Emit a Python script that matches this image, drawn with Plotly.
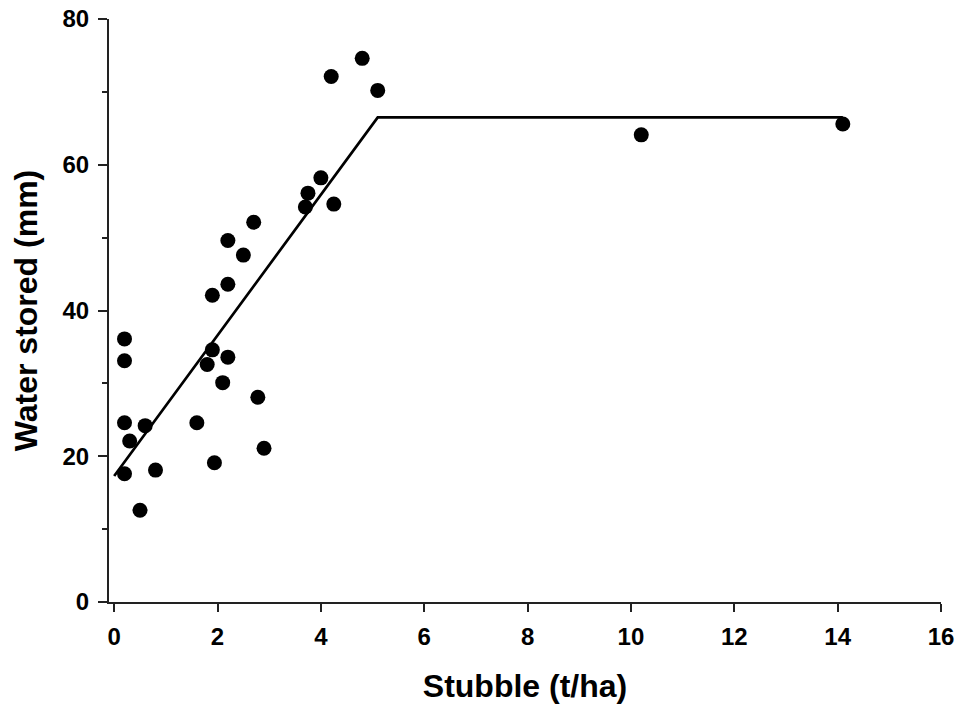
import plotly.graph_objects as go

# Observed data (Stubble t/ha vs Water stored mm)
stubble = [0.2, 0.2, 0.2, 0.2, 0.3, 0.6, 0.5, 0.8, 1.6, 1.94,
           1.8, 1.9, 2.2, 2.1, 1.9, 2.2, 2.2, 2.5, 2.7, 2.78,
           2.9, 3.7, 3.75, 4.0, 4.25, 4.2, 4.8, 5.1, 10.2, 14.1]
water = [36.1, 33.1, 24.6, 17.6, 22.1, 24.2, 12.6, 18.1, 24.6, 19.1,
         32.6, 34.6, 33.6, 30.1, 42.1, 43.6, 49.6, 47.6, 52.1, 28.1,
         21.1, 54.2, 56.1, 58.2, 54.6, 72.1, 74.6, 70.2, 64.1, 65.6]

# Fitted broken-stick line
fit_x = [0.0, 5.1, 14.1]
fit_y = [17.3, 66.5, 66.5]

x_ticks = [0, 2, 4, 6, 8, 10, 12, 14, 16]
y_ticks = [0, 20, 40, 60, 80]

FONT = "Liberation Sans, Arial, sans-serif"

fig = go.Figure()
fig.add_trace(go.Scatter(x=fit_x, y=fit_y, mode="lines",
                         line=dict(color="black", width=2.7),
                         showlegend=False, hoverinfo="skip"))
fig.add_trace(go.Scatter(x=stubble, y=water, mode="markers",
                         marker=dict(color="black", size=15, line=dict(width=0)),
                         showlegend=False))

fig.update_layout(
    width=957, height=704,
    margin=dict(l=109, r=16, t=19, b=102, autoexpand=False),
    paper_bgcolor="white", plot_bgcolor="white",
    font=dict(family=FONT, color="black"),
)
fig.update_xaxes(
    range=[-0.1, 16], tickvals=x_ticks, ticktext=[str(v) for v in x_ticks],
    automargin=False, ticklabeloverflow="allow",
    showgrid=False, zeroline=False, showline=True, linecolor="#222", linewidth=2,
    ticks="outside", ticklen=8, tickwidth=2, tickcolor="#222", ticklabelstandoff=4,
    tickfont=dict(family=FONT, size=24, weight="bold", color="black"),
    title=dict(text="Stubble (t/ha)", standoff=29,
               font=dict(family=FONT, size=32, weight="bold", color="black")),
)
fig.update_yaxes(
    range=[0, 80], tickvals=y_ticks, ticktext=[str(v) for v in y_ticks],
    automargin=False, ticklabeloverflow="allow",
    showgrid=False, zeroline=False, showline=True, linecolor="#222", linewidth=2,
    ticks="outside", ticklen=9, tickwidth=2, tickcolor="#222", ticklabelstandoff=4,
    minor=dict(ticks="outside", ticklen=5, tickwidth=1.5, tickcolor="#222", dtick=10, showgrid=False),
    tickfont=dict(family=FONT, size=24, weight="bold", color="black"),
    title=dict(text="Water stored (mm)", standoff=15,
               font=dict(family=FONT, size=32, weight="bold", color="black")),
)

# remove the default 8px page margin so the figure fills the window exactly
fig.write_html(
    "out.html",
    config={"displayModeBar": False},
    post_script="document.body.style.margin='0';document.body.style.overflow='hidden';",
)
